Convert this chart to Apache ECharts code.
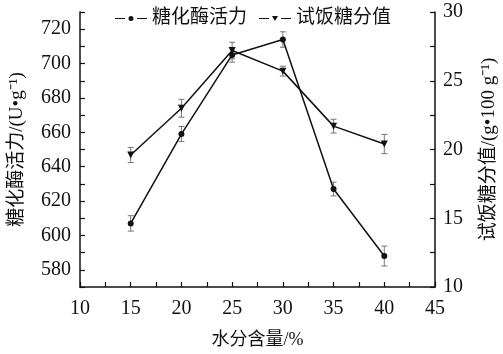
<!DOCTYPE html>
<html>
<head>
<meta charset="utf-8">
<script src="https://cdn.jsdelivr.net/npm/echarts@6/dist/echarts.min.js"></script>
<style>
  html, body { margin: 0; padding: 0; background: #fff; }
  #chart-container { width: 503px; height: 354px; }
</style>
</head>
<body>
<div id="chart-container"></div>
<script>
// 水分含量 (%)
const moisture = [15, 20, 25, 30, 35, 40];
// 糖化酶活力 U/g
const enzyme = [607, 659, 705, 714, 627, 588];
const enzymeErr = [4.5, 4.4, 4.2, 4.5, 4.0, 5.8];
// 试饭糖分值 g/100g
const sugar = [19.6, 23.0, 27.2, 25.7, 21.7, 20.4];
const sugarErr = [0.55, 0.65, 0.6, 0.36, 0.5, 0.7];

const fontFamily = '"Liberation Serif", "Noto Sans CJK SC", serif';

const errBars = (values, errs) => moisture.map((x, i) => [x, values[i] - errs[i], values[i] + errs[i]]);

const renderErr = (params, api) => {
	const x = api.value(0);
	const lo = api.coord([x, api.value(1)]);
	const hi = api.coord([x, api.value(2)]);
	const w = 3;
	const style = { stroke: '#777', lineWidth: 1 };
	return {
		type: 'group',
		children: [
			{ type: 'line', shape: { x1: lo[0], y1: lo[1], x2: hi[0], y2: hi[1] }, style: style },
			{ type: 'line', shape: { x1: lo[0] - w, y1: lo[1], x2: lo[0] + w, y2: lo[1] }, style: style },
			{ type: 'line', shape: { x1: hi[0] - w, y1: hi[1], x2: hi[0] + w, y2: hi[1] }, style: style }
		]
	};
};

// legend icons: dash - marker - dash
const iconCircle = 'path://M0,3.4h10v1.2H0z M22,3.4h10v1.2H22z M13.5,4a2.5,2.5 0 1,0 5,0a2.5,2.5 0 1,0 -5,0z';
const iconTri = 'path://M0,3.4h10v1.2H0z M22,3.4h10v1.2H22z M13,1.5h6l-3,5z';

const axisLineStyle = { color: '#111', width: 1.5 };

const myChart = echarts.init(document.getElementById('chart-container'));
const option = {
	animation: false,
	textStyle: { fontFamily: fontFamily, color: '#111' },
	legend: {
		left: 110,
		top: 4,
		itemWidth: 32,
		itemHeight: 8,
		itemGap: 12,
		data: [
			{ name: '糖化酶活力', icon: iconCircle },
			{ name: '试饭糖分值', icon: iconTri }
		],
		textStyle: { fontSize: 19, color: '#111', fontFamily: fontFamily }
	},
	grid: { left: 80, right: 68, top: 12, bottom: 67, outerBoundsMode: 'none' },
	xAxis: {
		type: 'value',
		min: 10,
		max: 45,
		interval: 2.5,
		name: '水分含量/%',
		nameLocation: 'middle',
		nameGap: 44,
		nameMoveOverlap: false,
		nameTextStyle: { fontSize: 18, color: '#111' },
		axisLine: { lineStyle: axisLineStyle },
		axisTick: { inside: true, length: 5, lineStyle: { color: '#111', width: 1.2 } },
		axisLabel: {
			fontSize: 20, color: '#111', margin: 12,
			formatter: v => (v % 5 === 0 ? String(v) : '')
		},
		splitLine: { show: false }
	},
	yAxis: [{
		type: 'value',
		min: 570,
		max: 730,
		interval: 10,
		name: '糖化酶活力/(U•g⁻¹)',
		nameLocation: 'middle',
		nameRotate: 90,
		nameGap: 53,
		nameMoveOverlap: false,
		nameTextStyle: { fontSize: 19, color: '#111' },
		axisLine: { show: true, lineStyle: axisLineStyle },
		axisTick: { inside: true, length: 5, lineStyle: { color: '#111', width: 1.2 } },
		axisLabel: {
			fontSize: 20, color: '#111', margin: 9,
			formatter: v => ((v - 580) % 20 === 0 ? String(v) : '')
		},
		splitLine: { show: false }
	}, {
		type: 'value',
		min: 10,
		max: 30,
		interval: 2.5,
		position: 'right',
		name: '试饭糖分值/(g•100 g⁻¹)',
		nameLocation: 'middle',
		nameRotate: 90,
		nameGap: 45,
		nameMoveOverlap: false,
		nameTextStyle: { fontSize: 19, color: '#111' },
		axisLine: { show: true, lineStyle: axisLineStyle },
		axisTick: { inside: true, length: 5, lineStyle: { color: '#111', width: 1.2 } },
		axisLabel: {
			fontSize: 20, color: '#111', margin: 8,
			formatter: v => (v % 5 === 0 ? String(v) : '')
		},
		splitLine: { show: false }
	}],
	series: [{
		name: '糖化酶活力',
		type: 'line',
		yAxisIndex: 0,
		data: moisture.map((x, i) => [x, enzyme[i]]),
		symbol: 'circle',
		symbolSize: 6,
		lineStyle: { color: '#111', width: 1.5 },
		itemStyle: { color: '#111' },
		z: 3
	}, {
		name: '试饭糖分值',
		type: 'line',
		yAxisIndex: 1,
		data: moisture.map((x, i) => [x, sugar[i]]),
		symbol: 'triangle',
		symbolRotate: 180,
		symbolSize: 7,
		lineStyle: { color: '#111', width: 1.5 },
		itemStyle: { color: '#111' },
		z: 3
	}, {
		type: 'custom',
		yAxisIndex: 0,
		data: errBars(enzyme, enzymeErr),
		renderItem: renderErr,
		z: 2
	}, {
		type: 'custom',
		yAxisIndex: 1,
		data: errBars(sugar, sugarErr),
		renderItem: renderErr,
		z: 2
	}]
};
myChart.setOption(option);
</script>
</body>
</html>
